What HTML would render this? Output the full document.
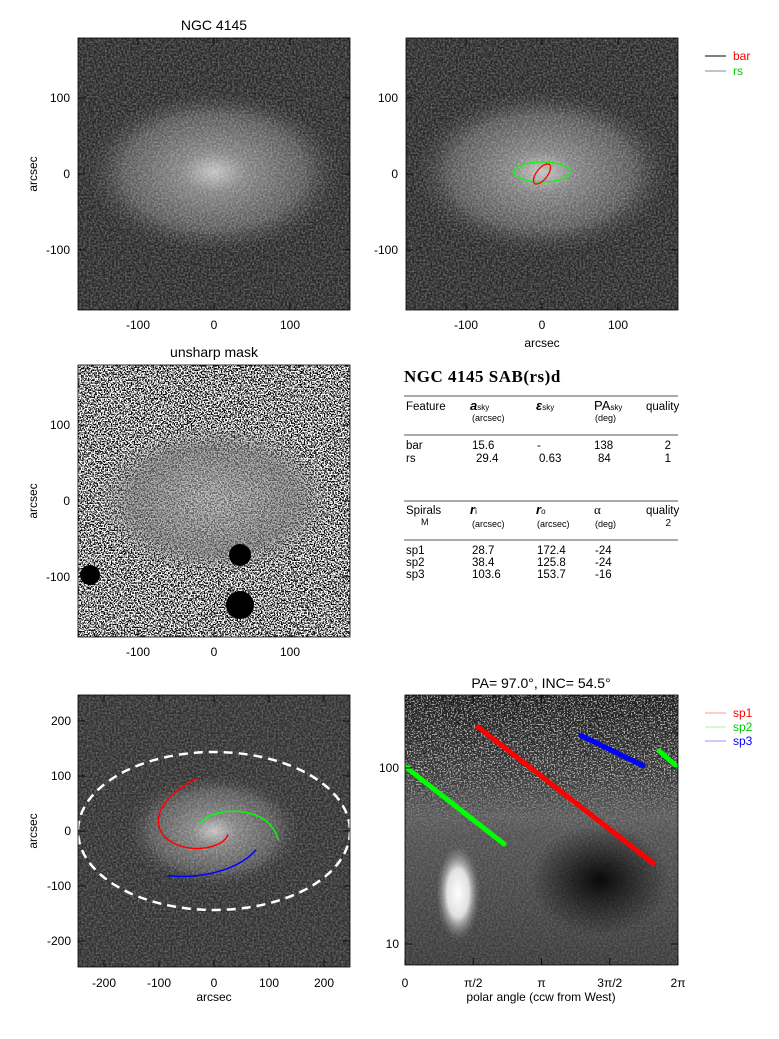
<!DOCTYPE html>
<html><head><meta charset="utf-8"><style>
html,body{margin:0;padding:0;background:#fff;}
svg{display:block;font-family:"Liberation Sans",sans-serif;}
</style></head><body>
<svg id="fig" width="779" height="1039" viewBox="0 0 779 1039" xmlns="http://www.w3.org/2000/svg">
<defs>
<filter id="noise" x="0" y="0" width="100%" height="100%">
 <feTurbulence type="fractalNoise" baseFrequency="0.55" numOctaves="1" seed="3"/>
 <feColorMatrix type="matrix" values="0 0 0 0 1  0 0 0 0 1  0 0 0 0 1  1.6 0 0 0 -0.55"/>
</filter>
<filter id="salt" x="0" y="0" width="100%" height="100%">
 <feTurbulence type="fractalNoise" baseFrequency="0.7" numOctaves="1" seed="7"/>
 <feColorMatrix type="matrix" values="0 0 0 0 1  0 0 0 0 1  0 0 0 0 1  12 0 0 0 -5.5"/>
</filter>
<filter id="salt2" x="0" y="0" width="100%" height="100%">
 <feTurbulence type="fractalNoise" baseFrequency="0.7" numOctaves="1" seed="11"/>
 <feColorMatrix type="matrix" values="0 0 0 0 1  0 0 0 0 1  0 0 0 0 1  12 0 0 0 -6.5"/>
</filter>
<radialGradient id="gal" cx="50%" cy="50%" r="50%">
 <stop offset="0" stop-color="#c0c0c0"/><stop offset="0.25" stop-color="#808080"/>
 <stop offset="0.7" stop-color="#555"/><stop offset="1" stop-color="#333" stop-opacity="0"/>
</radialGradient>
<radialGradient id="usm" cx="50%" cy="50%" r="50%">
 <stop offset="0" stop-color="#9a9a9a"/><stop offset="0.7" stop-color="#707070"/><stop offset="1" stop-color="#808080" stop-opacity="0"/>
</radialGradient>
<radialGradient id="blob" cx="50%" cy="50%" r="50%">
 <stop offset="0" stop-color="#fff"/><stop offset="0.5" stop-color="#e0e0e0"/><stop offset="1" stop-color="#808080" stop-opacity="0"/>
</radialGradient>
<radialGradient id="dark" cx="50%" cy="50%" r="50%">
 <stop offset="0" stop-color="#0a0a0a"/><stop offset="1" stop-color="#0a0a0a" stop-opacity="0"/>
</radialGradient>
<linearGradient id="brv" x1="0" y1="0" x2="0" y2="1">
 <stop offset="0" stop-color="#151515"/><stop offset="0.3" stop-color="#333"/><stop offset="0.45" stop-color="#555"/><stop offset="1" stop-color="#3a3a3a"/>
</linearGradient>
<linearGradient id="fadeG" x1="0" y1="0" x2="0" y2="1">
 <stop offset="0" stop-color="#fff"/><stop offset="0.55" stop-color="#fff"/><stop offset="1" stop-color="#000"/>
</linearGradient>
<mask id="fadeM"><rect x="405" y="695" width="273" height="140" fill="url(#fadeG)"/></mask>
<clipPath id="c1"><rect x="78" y="38" width="272" height="272"/></clipPath>
<clipPath id="c2"><rect x="406" y="38" width="272" height="272"/></clipPath>
<clipPath id="c3"><rect x="78" y="365" width="272" height="272"/></clipPath>
<clipPath id="c4"><rect x="78" y="695" width="272" height="272"/></clipPath>
<clipPath id="c5"><rect x="405" y="695" width="273" height="270"/></clipPath>
</defs>

<!-- Panel 1 -->
<g clip-path="url(#c1)">
 <rect x="78" y="38" width="272" height="272" fill="#262626"/>
 <ellipse cx="214" cy="172" rx="130" ry="82" fill="url(#gal)"/>
 <rect x="78" y="38" width="272" height="272" filter="url(#noise)" opacity="0.45"/>
</g>
<rect x="78" y="38" width="272" height="272" fill="none" stroke="#000" stroke-width="0.8"/>
<text x="214" y="30" font-size="14" text-anchor="middle">NGC 4145</text>

<!-- Panel 2 -->
<g clip-path="url(#c2)">
 <rect x="406" y="38" width="272" height="272" fill="#262626"/>
 <ellipse cx="542" cy="172" rx="130" ry="82" fill="url(#gal)"/>
 <rect x="406" y="38" width="272" height="272" filter="url(#noise)" opacity="0.45"/>
 <ellipse cx="542" cy="172" rx="28" ry="10" fill="none" stroke="#0f0" stroke-width="1.3"/>
 <ellipse cx="542" cy="174" rx="12" ry="5.5" transform="rotate(-52 542 174)" fill="none" stroke="#f00" stroke-width="1.3"/>
</g>
<rect x="406" y="38" width="272" height="272" fill="none" stroke="#000" stroke-width="0.8"/>
<g font-size="12">
 <line x1="705" y1="56" x2="726" y2="56" stroke="#000"/><text x="733" y="60" fill="#f00">bar</text>
 <line x1="705" y1="71" x2="726" y2="71" stroke="#888"/><text x="733" y="75" fill="#0c0">rs</text>
</g>

<!-- Panel 3 unsharp -->
<g clip-path="url(#c3)">
 <rect x="78" y="365" width="272" height="272" fill="#000"/>
 <rect x="78" y="365" width="272" height="272" filter="url(#salt)"/>
 <ellipse cx="214" cy="500" rx="118" ry="75" fill="url(#usm)" opacity="0.7"/>
 <rect x="78" y="365" width="272" height="272" filter="url(#salt2)" opacity="0.4"/>
 <circle cx="240" cy="555" r="11" fill="#000"/><circle cx="240" cy="605" r="14" fill="#000"/>
 <circle cx="90" cy="575" r="10" fill="#000"/>
</g>
<rect x="78" y="365" width="272" height="272" fill="none" stroke="#000" stroke-width="0.8"/>
<text x="214" y="357" font-size="14" text-anchor="middle">unsharp mask</text>

<!-- Table -->
<g font-size="11.5">
 <text x="404" y="382" font-family="Liberation Serif,serif" font-weight="bold" font-size="17" letter-spacing="0.5">NGC 4145  SAB(rs)d</text>
 <line x1="404" y1="396" x2="678" y2="396" stroke="#555"/>
 <text x="406" y="410">Feature</text>
 <text x="470" y="410" font-weight="bold" font-style="italic" font-size="13">a<tspan font-size="8" font-weight="normal" font-style="normal">sky</tspan></text>
 <text x="472" y="421" font-size="9">(arcsec)</text>
 <text x="536" y="410" font-weight="bold" font-style="italic" font-size="13">ε<tspan font-size="8" font-weight="normal" font-style="normal">sky</tspan></text>
 <text x="594" y="410" font-size="13">PA<tspan font-size="8">sky</tspan></text>
 <text x="595" y="421" font-size="9">(deg)</text>
 <text x="646" y="410">quality</text>
 <line x1="404" y1="435" x2="678" y2="435" stroke="#555"/>
 <text x="406" y="449">bar</text><text x="472" y="449">15.6</text><text x="537" y="449">-</text><text x="594" y="449">138</text><text x="671" y="449" text-anchor="end">2</text>
 <text x="406" y="462">rs</text><text x="476" y="462">29.4</text><text x="539" y="462">0.63</text><text x="598" y="462">84</text><text x="671" y="462" text-anchor="end">1</text>
 <line x1="404" y1="501" x2="678" y2="501" stroke="#555"/>
 <text x="406" y="514">Spirals</text><text x="421" y="525" font-size="9">M</text>
 <text x="470" y="514" font-weight="bold" font-style="italic" font-size="13">r<tspan font-size="8" font-weight="normal" font-style="normal">i</tspan></text>
 <text x="472" y="527" font-size="9">(arcsec)</text>
 <text x="536" y="514" font-weight="bold" font-style="italic" font-size="13">r<tspan font-size="8" font-weight="normal" font-style="normal">o</tspan></text>
 <text x="537" y="527" font-size="9">(arcsec)</text>
 <text x="594" y="514" font-size="13" font-family="Liberation Serif,serif">α</text>
 <text x="595" y="527" font-size="9">(deg)</text>
 <text x="646" y="514">quality</text><text x="671" y="526" text-anchor="end" font-size="10">2</text>
 <line x1="404" y1="540" x2="678" y2="540" stroke="#555"/>
 <text x="406" y="554">sp1</text><text x="472" y="554">28.7</text><text x="537" y="554">172.4</text><text x="595" y="554">-24</text>
 <text x="406" y="566">sp2</text><text x="472" y="566">38.4</text><text x="537" y="566">125.8</text><text x="595" y="566">-24</text>
 <text x="406" y="578">sp3</text><text x="472" y="578">103.6</text><text x="537" y="578">153.7</text><text x="595" y="578">-16</text>
</g>

<!-- Panel 4 -->
<g clip-path="url(#c4)">
 <rect x="78" y="695" width="272" height="272" fill="#2e2e2e"/>
 <ellipse cx="214" cy="831" rx="90" ry="58" fill="url(#gal)"/>
 <rect x="78" y="695" width="272" height="272" filter="url(#noise)" opacity="0.4"/>
 <ellipse cx="214" cy="831" rx="136" ry="79" fill="none" stroke="#fff" stroke-width="2.5" stroke-dasharray="9,6"/>
 <g id="skySpirals"></g>
</g>
<rect x="78" y="695" width="272" height="272" fill="none" stroke="#000" stroke-width="0.8"/>

<!-- Panel 5 -->
<g clip-path="url(#c5)">
 <rect x="405" y="695" width="273" height="270" fill="url(#brv)"/>
 <g mask="url(#fadeM)"><rect x="405" y="695" width="273" height="140" filter="url(#salt2)" opacity="0.6"/></g>
 <rect x="405" y="695" width="273" height="270" filter="url(#noise)" opacity="0.25"/>
 <ellipse cx="600" cy="880" rx="70" ry="55" fill="url(#dark)"/>
 <ellipse cx="458" cy="893" rx="22" ry="48" fill="url(#blob)"/>
 <g id="polarMarks"></g>
</g>
<rect x="405" y="695" width="273" height="270" fill="none" stroke="#000" stroke-width="0.8"/>
<text x="541" y="688" font-size="14" text-anchor="middle">PA=  97.0°, INC=  54.5°</text>
<g font-size="12">
 <line x1="705" y1="713" x2="726" y2="713" stroke="#f99"/><text x="733" y="717" fill="#f00">sp1</text>
 <line x1="705" y1="727" x2="726" y2="727" stroke="#9f9"/><text x="733" y="731" fill="#0c0">sp2</text>
 <line x1="705" y1="741" x2="726" y2="741" stroke="#99f"/><text x="733" y="745" fill="#00f">sp3</text>
</g>

<!-- Axis labels -->
<g font-size="12">
 <text transform="translate(37,174) rotate(-90)" text-anchor="middle">arcsec</text>
 <text transform="translate(37,501) rotate(-90)" text-anchor="middle">arcsec</text>
 <text transform="translate(37,831) rotate(-90)" text-anchor="middle">arcsec</text>
 <text x="542" y="347" text-anchor="middle">arcsec</text>
 <text x="214" y="1001" text-anchor="middle">arcsec</text>
 <text x="541" y="1001" text-anchor="middle">polar angle (ccw from West)</text>
</g>
<g id="ticks" font-size="12"></g>
</svg>
<script>
var spiralNames = ["sp1","sp2","sp2b","sp3"];
var spiralColors = ["#f00","#0f0","#0f0","#00f"];
var spiralTheta0 = [1.68, 0.0, 5.85, 4.05];
var spiralTheta1 = [5.71, 2.28, 6.283, 5.48];
var spiralR0 = [171, 102, 125, 153];
var spiralR1 = [28.8, 37, 101, 103];
var xTickLabels = ["0","π/2","π","3π/2","2π"];
var xTickValues = [0, 1.5708, 3.1416, 4.7124, 6.2832];
var yTickValues = [10, 100];
var skyTicks = [-100, 0, 100];
var skyTicks4 = [-200, -100, 0, 100, 200];

var NS = "http://www.w3.org/2000/svg";
function mk(tag, attrs, parent){var e=document.createElementNS(NS,tag);for(var k in attrs)e.setAttribute(k,attrs[k]);parent.appendChild(e);return e;}
function px(t){return 405 + t/(2*Math.PI)*273;}
function py(r){return 768 - (Math.log10(r)-2)*176;}
function sx(a){return 214 + a*0.55;}
function sy(a){return 831 - a*0.55;}
var inc = 54.5*Math.PI/180, rot = 7*Math.PI/180;

var pm = document.getElementById("polarMarks");
var sk = document.getElementById("skySpirals");
for (var i=0;i<spiralNames.length;i++){
  var l = mk("line",{x1:px(spiralTheta0[i]),y1:py(spiralR0[i]),x2:px(spiralTheta1[i]),y2:py(spiralR1[i]),stroke:spiralColors[i],"stroke-width":5,"stroke-linecap":"round"},pm);
  
  
  var d="", n=40;
  for (var j=0;j<=n;j++){
    var t = spiralTheta0[i] + (spiralTheta1[i]-spiralTheta0[i])*j/n;
    var lr = Math.log(spiralR0[i]) + (Math.log(spiralR1[i])-Math.log(spiralR0[i]))*j/n;
    var r = Math.exp(lr);
    var xd = r*Math.cos(t), yd = r*Math.sin(t)*Math.cos(inc);
    var xs = xd*Math.cos(rot) - yd*Math.sin(rot), ys = xd*Math.sin(rot) + yd*Math.cos(rot);
    d += (j?"L":"M") + sx(xs).toFixed(1) + "," + sy(ys).toFixed(1);
  }
  var p = mk("path",{d:d,fill:"none",stroke:spiralColors[i],"stroke-width":1.5},sk);
  
  
}

var tk = document.getElementById("ticks");
function tickLbl(x,y,s,anchor,name){var t=mk("text",{x:x,y:y,"text-anchor":anchor},tk);t.textContent=s;
  
  }
function tline(x1,y1,x2,y2){mk("line",{x1:x1,y1:y1,x2:x2,y2:y2,stroke:"#000","stroke-width":0.8},tk);}
var panels = [[78,38,214,174],[406,38,542,174],[78,365,214,501]];
panels.forEach(function(P){
  skyTicks.forEach(function(v){
    var x=P[2]+v*0.76, y=P[3]-v*0.76;
    tline(x,P[1]+272,x,P[1]+265); tline(x,P[1],x,P[1]+7);
    tline(P[0],y,P[0]+7,y); tline(P[0]+272,y,P[0]+265,y);
    tickLbl(x,P[1]+291,String(v),"middle","x-tick-label");
    tickLbl(P[0]-8,y+4,String(v),"end","y-tick-label");
  });
});
skyTicks4.forEach(function(v){
  tline(sx(v),967,sx(v),960); tline(sx(v),695,sx(v),702);
  tline(78,sy(v),85,sy(v)); tline(350,sy(v),343,sy(v));
  tickLbl(sx(v),987,String(v),"middle","x-tick-label");
  tickLbl(71,sy(v)+4,String(v),"end","y-tick-label");
});
xTickValues.forEach(function(v,i){
  tline(px(v),965,px(v),958); tline(px(v),695,px(v),702);
  tickLbl(px(v),987,xTickLabels[i],"middle","x-tick-label");
});
yTickValues.forEach(function(v){
  tline(405,py(v),412,py(v)); tline(678,py(v),671,py(v));
  tickLbl(399,py(v)+4,String(v),"end","y-tick-label");
});
</script>
</body></html>
